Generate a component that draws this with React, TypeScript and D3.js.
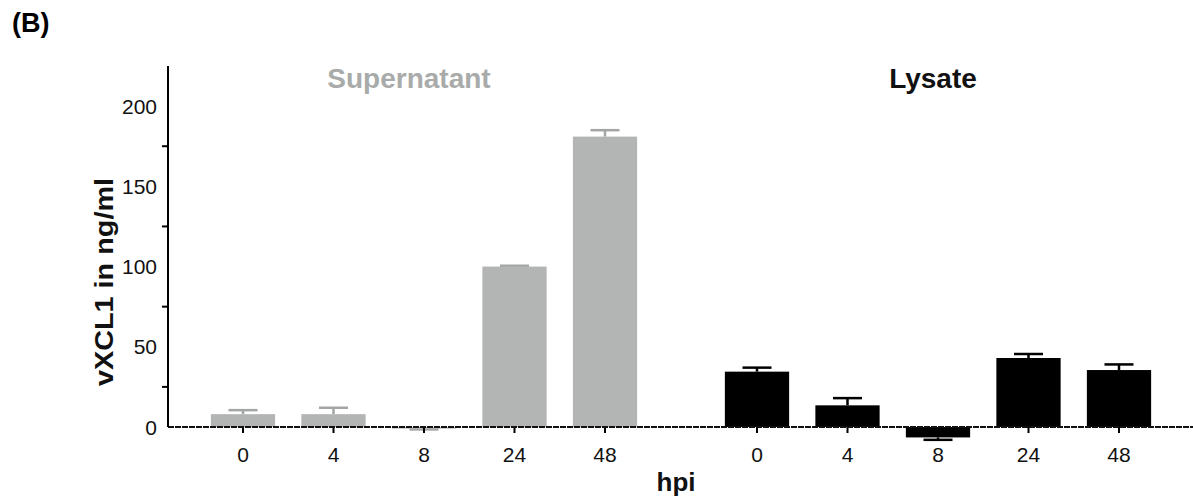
import React from 'react';
import * as d3 from 'd3';

const hours = ['0', '4', '8', '24', '48'];
const supernatant = [8, 8, -1, 100, 181];
const supernatantErr = [2.5, 4, 0.5, 0.5, 4];
const lysate = [34.5, 13.5, -6.5, 43, 35.5];
const lysateErr = [2.5, 4.5, 1.5, 2.5, 3.5];
const yLabels = [0, 50, 100, 150, 200];
const yMinorTicks = [25, 75, 125, 175];

const W = 1193;
const H = 502;
const FONT = 'Liberation Sans, Arial, Helvetica, sans-serif';

const App = () => {
  const y = d3.scaleLinear().domain([0, 225]).range([427, 66]);
  const xSup = d3.scaleBand().domain(hours).range([197.75, 650.25]).paddingInner(0.29).paddingOuter(0.145);
  const xLys = d3.scaleBand().domain(hours).range([711.75, 1164.25]).paddingInner(0.29).paddingOuter(0.145);
  const axisX = 168;

  // title x positions are not centred on the groups in the original
  const groups = [
    { name: 'Supernatant', x: xSup, titleX: 409, values: supernatant, errs: supernatantErr, fill: '#b3b5b4', errColor: '#a3a5a4', titleFill: '#a9abaa' },
    { name: 'Lysate', x: xLys, titleX: 933, values: lysate, errs: lysateErr, fill: '#000', errColor: '#000', titleFill: '#111' },
  ];

  return (
    <svg width={W} height={H} style={{ position: 'absolute', left: 0, top: 0, background: '#fff' }} fontFamily={FONT}>
      <text x={12} y={32} fontSize={27} fontWeight="bold">(B)</text>

      {groups.map(g => {
        const bw = g.x.bandwidth();
        return (
          <g key={g.name}>
            <text x={g.titleX} y={88} textAnchor="middle" fontSize={28} fontWeight="bold" fill={g.titleFill}>
              {g.name}
            </text>
            {hours.map((h, i) => {
              const v = g.values[i];
              const e = g.errs[i];
              const x0 = g.x(h)!;
              const cx = x0 + bw / 2;
              const top = y(Math.max(v, 0));
              const bot = y(Math.min(v, 0));
              const errEnd = v >= 0 ? y(v + e) : y(v - e);
              const errStart = v >= 0 ? top : bot;
              return (
                <g key={h}>
                  <line x1={cx} x2={cx} y1={errStart} y2={errEnd} stroke={g.errColor} strokeWidth={2.5} />
                  <line x1={cx - 14.5} x2={cx + 14.5} y1={errEnd} y2={errEnd} stroke={g.errColor} strokeWidth={2.5} />
                  <rect x={x0} y={top} width={bw} height={Math.max(bot - top, 1)} fill={g.fill} />
                  <line x1={cx} x2={cx} y1={427} y2={433} stroke="#000" strokeWidth={2} />
                  <text x={cx} y={462} textAnchor="middle" fontSize={21} fill="#111">{h}</text>
                </g>
              );
            })}
          </g>
        );
      })}

      {/* baseline */}
      <line x1={axisX} x2={W} y1={y(0)} y2={y(0)} stroke="#111" strokeWidth={1.8} strokeDasharray="6 1" />

      {/* y axis */}
      <line x1={axisX} x2={axisX} y1={y(225)} y2={y(0)} stroke="#000" strokeWidth={2} />
      {yMinorTicks.map(t => (
        <line key={t} x1={axisX - 6} x2={axisX} y1={y(t)} y2={y(t)} stroke="#000" strokeWidth={2} />
      ))}
      {yLabels.map(t => (
        <text key={t} x={157} y={y(t)} dy="0.36em" textAnchor="end" fontSize={21} fill="#111">{t}</text>
      ))}

      <text transform="translate(113,282) rotate(-90)" textAnchor="middle" fontSize={26} fontWeight="bold" fill="#111"
        textLength={208} lengthAdjust="spacingAndGlyphs">vXCL1 in ng/ml</text>
      <text x={676} y={491} textAnchor="middle" fontSize={26} fontWeight="bold" fill="#111">hpi</text>
    </svg>
  );
};

export default App;
